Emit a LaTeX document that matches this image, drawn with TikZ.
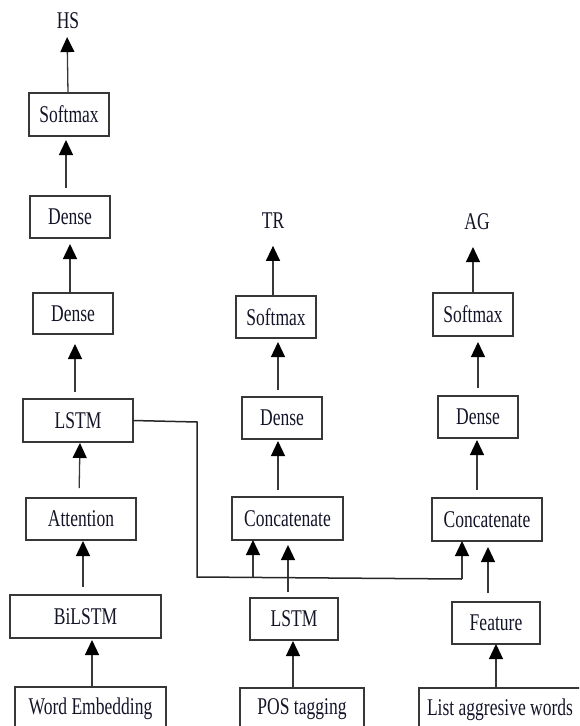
\documentclass[tikz,border=0pt]{standalone}
\usepackage{fontspec}
\setmainfont{Liberation Serif}[FakeStretch=0.73]
\usetikzlibrary{arrows.meta}
\definecolor{linec}{RGB}{55,55,55}
\definecolor{textc}{RGB}{20,20,40}
\tikzset{
  box/.style={draw=linec, line width=1.3pt, inner sep=0pt, outer sep=0pt, anchor=north west,
    text=textc, font=\fontsize{24}{28}\selectfont},
  lbl/.style={inner sep=0pt, outer sep=0pt, text=textc, font=\fontsize{24}{28}\selectfont},
  arr/.style={draw=linec, line width=1.3pt, -{Triangle[length=15pt,width=14pt,color=black]}},
  wire/.style={draw=black!85, line width=1.5pt},
}
\begin{document}
\begin{tikzpicture}[x=1pt,y=-1pt]
\useasboundingbox (0,0) rectangle (579,726);
\clip (0,0) rectangle (579,726);
% left column
\node[lbl] (hs) at (68,21) {HS};
\node[box, minimum width=80pt, minimum height=43pt] (sm1) at (29,93) {Softmax};
\node[box, minimum width=80pt, minimum height=42pt] (d1) at (30,196) {Dense};
\node[box, minimum width=80pt, minimum height=41pt] (d2) at (33,293) {Dense};
\node[box, minimum width=110pt, minimum height=43pt] (lstm1) at (23,399) {LSTM};
\node[box, minimum width=110pt, minimum height=42pt] (att) at (26,498) {Attention};
\node[box, minimum width=151pt, minimum height=43pt] (bilstm) at (10,595) {BiLSTM};
\node[box, minimum width=151pt, minimum height=43pt] (we) at (15,687) {Word Embedding};
% middle column
\node[lbl] (tr) at (273,221) {TR};
\node[box, minimum width=80pt, minimum height=42pt] (sm2) at (236,296) {Softmax};
\node[box, minimum width=80pt, minimum height=42pt] (d3) at (242,397) {Dense};
\node[box, minimum width=111pt, minimum height=43pt] (cc1) at (232,497) {Concatenate};
\node[box, minimum width=88pt, minimum height=42pt] (lstm2) at (250,598) {LSTM};
\node[box, minimum width=124pt, minimum height=43pt] (pos) at (240,688) {POS tagging};
% right column
\node[lbl] (ag) at (477,222) {AG};
\node[box, minimum width=80pt, minimum height=43pt] (sm3) at (433,293) {Softmax};
\node[box, minimum width=80pt, minimum height=42pt] (d4) at (438,396) {Dense};
\node[box, minimum width=110pt, minimum height=43pt] (cc2) at (432,498) {Concatenate};
\node[box, minimum width=88pt, minimum height=42pt] (feat) at (452,602) {Feature};
\node[box, minimum width=162pt, minimum height=43pt] (list) at (419,688) {List aggresive words};
% left arrows
\draw[arr, shorten >=8pt] ([xshift=-1pt]sm1.north) -- ([xshift=-1pt]hs.south);
\draw[arr, shorten <=8pt, shorten >=4pt] ([xshift=-4pt]d1.north) -- ([xshift=-3pt]sm1.south);
\draw[arr, shorten >=6pt] ([xshift=-3pt]d2.north) -- ([xshift=0pt]d1.south);
\draw[arr, shorten <=7pt, shorten >=10pt] ([xshift=-3pt]lstm1.north) -- ([xshift=2pt]d2.south);
\draw[arr, shorten <=10pt, shorten >=1pt] ([xshift=-2pt]att.north) -- ([xshift=2pt]lstm1.south);
\draw[arr, shorten <=8pt, shorten >=1pt] ([xshift=-2.5pt]bilstm.north) -- ([xshift=2pt]att.south);
\draw[arr, shorten >=2pt] ([xshift=1.5pt]we.north) -- ([xshift=6.5pt]bilstm.south);
% middle arrows
\draw[arr, shorten >=17pt] ([xshift=-3pt]sm2.north) -- (tr.south);
\draw[arr, shorten <=7pt, shorten >=4pt] ([xshift=-4pt]d3.north) -- ([xshift=2pt]sm2.south);
\draw[arr, shorten <=7pt, shorten >=2pt] ([xshift=-9.5pt]cc1.north) -- ([xshift=-4pt]d3.south);
\draw[arr, shorten <=6pt, shorten >=5pt] ([xshift=-6pt]lstm2.north) -- ([xshift=0.5pt]cc1.south);
\draw[arr, shorten >=1pt] ([xshift=-9pt]pos.north) -- ([xshift=-1pt]lstm2.south);
% right arrows
\draw[arr, shorten >=17pt] (sm3.north) -- ([xshift=-4pt]ag.south);
\draw[arr, shorten <=8pt, shorten >=6pt] (d4.north) -- ([xshift=5pt]sm3.south);
\draw[arr, shorten <=8pt, shorten >=2pt] ([xshift=-10pt]cc2.north) -- ([xshift=-1pt]d4.south);
\draw[arr, shorten <=9pt, shorten >=6pt] ([xshift=-8pt]feat.north) -- ([xshift=1pt]cc2.south);
\draw[arr] ([xshift=-4pt]list.north) -- (feat.south);
% LSTM wire
\coordinate (j1) at (197,422);
\coordinate (j2) at (197,577);
\coordinate (j3) at (462,579);
\coordinate (j4) at (253,577.4);
\draw[wire] (lstm1.east) -- (j1) -- (j2) -- (j3);
\draw[arr] (j4) -- (j4 |- cc1.south);
\draw[arr] (j3) -- (j3 |- cc2.south);
\end{tikzpicture}
\end{document}
